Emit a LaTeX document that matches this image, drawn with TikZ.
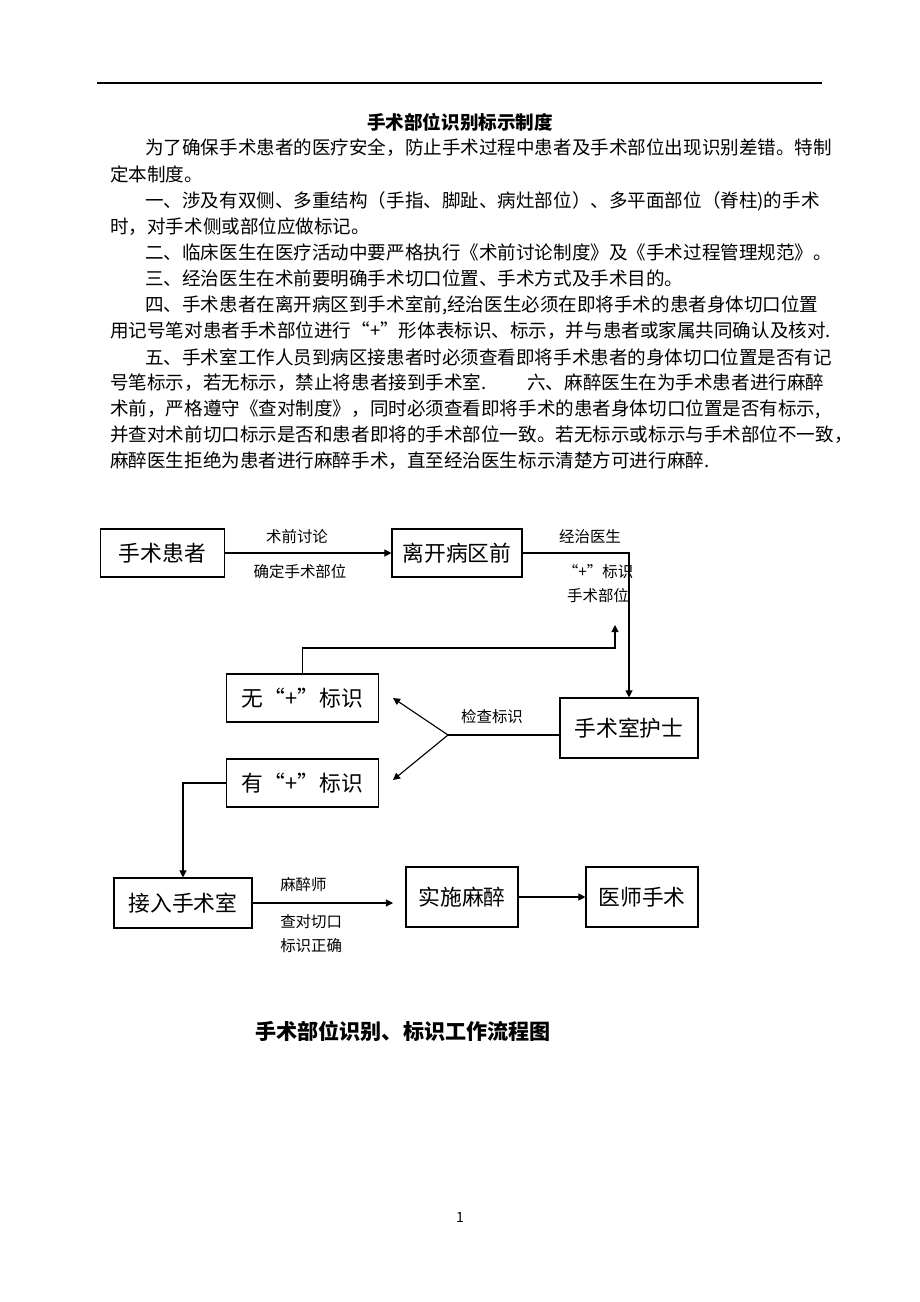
\documentclass[tikz,border=0pt]{standalone}
\usepackage{fontspec}
\setmainfont{Noto Sans CJK SC}
\usepackage{tikz}
\usetikzlibrary{positioning,arrows.meta}

\begin{document}
\begin{tikzpicture}[
  x=0.25mm, y=-0.25mm,
  box/.style={draw, thick, inner sep=0pt, font=\fontsize{15.5}{18}\selectfont},
  body/.style={anchor=west, inner sep=0pt, font=\fontsize{13.2}{16}\selectfont},
  lbl/.style={inner sep=0pt, font=\fontsize{11}{13}\selectfont},
  flow/.style={thick, -{Triangle[length=5pt,width=5pt]}},
]
\useasboundingbox (0,0) rectangle (920,1302);

% Header
\draw[thick] (97,83) -- (822,83);
\node[inner sep=0pt, font=\fontsize{13.2}{16}\selectfont\bfseries] (title) at (460,122) {手术部位识别标示制度};

% Body text
\foreach \y/\x/\line in {
  148/145/{为了确保手术患者的医疗安全，防止手术过程中患者及手术部位出现识别差错。特制},
  174/110/{定本制度。},
  201/145/{一、涉及有双侧、多重结构（手指、脚趾、病灶部位）、多平面部位（脊柱)的手术},
  227/110/{时，对手术侧或部位应做标记。},
  252/145/{二、临床医生在医疗活动中要严格执行《术前讨论制度》及《手术过程管理规范》。},
  278/145/{三、经治医生在术前要明确手术切口位置、手术方式及手术目的。},
  305/145/{四、手术患者在离开病区到手术室前,经治医生必须在即将手术的患者身体切口位置},
  331/110/{用记号笔对患者手术部位进行“+”形体表标识、标示，并与患者或家属共同确认及核对.},
  357/145/{五、手术室工作人员到病区接患者时必须查看即将手术患者的身体切口位置是否有记},
  383/110/{号笔标示，若无标示，禁止将患者接到手术室.\hspace{2.2em}六、麻醉医生在为手术患者进行麻醉},
  409/110/{术前，严格遵守《查对制度》，同时必须查看即将手术的患者身体切口位置是否有标示,},
  435/110/{并查对术前切口标示是否和患者即将的手术部位一致。若无标示或标示与手术部位不一致，},
  461/110/{麻醉医生拒绝为患者进行麻醉手术，直至经治医生标示清楚方可进行麻醉.}} {
  \node[body] at (\x,\y) {\line};
}

% Boxes
\node[box, minimum width=31mm, minimum height=12mm] (patient) at (162.5,553) {手术患者};
\node[box, minimum width=32.5mm, minimum height=12mm] (ward) at (457,553) {离开病区前};
\node[box, minimum width=34.5mm, minimum height=15mm] (nurse) at (629,728) {手术室护士};
\node[box, minimum width=38mm, minimum height=12mm] (nomark) at (302.5,698) {无“+”标识};
\node[box, minimum width=38mm, minimum height=12mm] (hasmark) at (302.5,783) {有“+”标识};
\node[box, minimum width=34.5mm, minimum height=12.5mm] (room) at (183,903) {接入手术室};
\node[box, minimum width=28mm, minimum height=15mm] (anes) at (462,897) {实施麻醉};
\node[box, minimum width=28mm, minimum height=15mm] (surg) at (642,897) {医师手术};

% Connectors
\coordinate (fork) at (448,735);
\coordinate (up) at (615,625);
\coordinate (roomend) at (393,903);
\draw[flow] (patient) -- (ward);
\draw[flow] (ward.east) -| (nurse.north);
\draw[thick] (nurse.west |- fork) -- (fork);
\draw[flow] (fork) -- (393,698);
\draw[flow] (fork) -- (393,780);
\draw[flow] (nomark.north) |- (615,648) -- (up);
\draw[flow] (hasmark.west) -| (room.north);
\draw[flow] (room.east |- roomend) -- (roomend);
\draw[flow] (anes) -- (surg);

% Labels
\node[lbl] at (297,537) {术前讨论};
\node[lbl] at (300,572) {确定手术部位};
\node[lbl] at (590,537) {经治医生};
\node[lbl] at (598,572) {“+”标识};
\node[lbl] at (598,596) {手术部位};
\node[lbl] at (492,717) {检查标识};
\node[lbl, anchor=west] at (280,885) {麻醉师};
\node[lbl, anchor=west] at (280,922) {查对切口};
\node[lbl, anchor=west] at (280,946) {标识正确};

% Caption
\node[inner sep=0pt, font=\fontsize{15}{18}\selectfont\bfseries] (caption) at (403,1031) {手术部位识别、标识工作流程图};
\node[inner sep=0pt, font=\fontsize{10}{12}\selectfont] (page) at (460,1217) {1};
\end{tikzpicture}
\end{document}
